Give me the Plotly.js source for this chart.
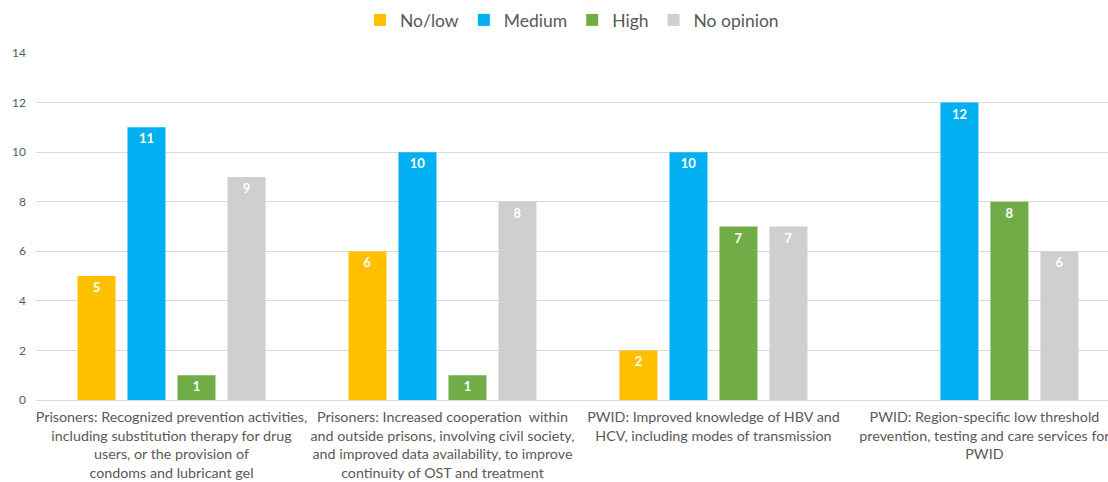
<!DOCTYPE html>
<html>
<head>
<meta charset="utf-8">
<script src="https://cdn.plot.ly/plotly-3.0.1.min.js"></script>
<style>html,body{margin:0;padding:0;background:#fff;}#chart{width:1108px;height:482px;}</style>
</head>
<body>
<div id="chart"></div>
<script>
var categories = [
  "Prisoners: Recognized prevention activities,<br>including substitution therapy for drug<br>users, or the provision of<br>condoms and lubricant gel",
  "Prisoners: Increased cooperation  within<br>and outside prisons, involving civil society,<br>and improved data availability, to improve<br>continuity of OST and treatment",
  "PWID: Improved knowledge of HBV and<br>HCV, including modes of transmission",
  "PWID: Region-specific low threshold<br>prevention, testing and care services for<br>PWID"
];
var seriesNames = ["No/low", "Medium", "High", "No opinion"];
var noLow = [5, 6, 2, null];
var medium = [11, 10, 10, 12];
var high = [1, 1, 7, 8];
var noOpinion = [9, 8, 7, 6];
var colors = ["#FFC000", "#00B0F0", "#70AD47", "#D0CECE"];

var allValues = [noLow, medium, high, noOpinion];
var traces = allValues.map(function (vals, i) {
  return {
    type: "bar",
    name: seriesNames[i],
    x: categories,
    y: vals,
    marker: {color: colors[i]},
    text: vals.map(function (v) { return v === null ? "" : String(v); }),
    texttemplate: "<b>%{text}</b>",
    textposition: "inside",
    insidetextanchor: "end",
    constraintext: "none",
    textfont: {family: "Lato, 'Open Sans', sans-serif", size: 13, color: "#ffffff"},
    hoverinfo: "skip"
  };
});

var layout = {
  width: 1108,
  height: 482,
  margin: {l: 36, r: 0, t: 53, b: 82},
  paper_bgcolor: "#ffffff",
  plot_bgcolor: "#ffffff",
  font: {family: "Lato, 'Open Sans', sans-serif", color: "#595959"},
  barmode: "group",
  bargap: 0.262,
  bargroupgap: 0.24,
  showlegend: true,
  legend: {
    orientation: "h",
    x: 0.5,
    xanchor: "center",
    y: 1.095,
    yanchor: "middle",
    itemwidth: 30,
    font: {size: 17.5, color: "#595959"},
    traceorder: "normal"
  },
  xaxis: {
    type: "category",
    range: [-0.5, 3.456],
    showgrid: false,
    showline: true,
    linecolor: "#d9d9d9",
    linewidth: 1,
    ticks: "",
    tickfont: {size: 14.3, color: "#595959"},
    ticklabelstandoff: 4,
    fixedrange: true
  },
  yaxis: {
    range: [0, 14],
    dtick: 2,
    tick0: 0,
    showgrid: true,
    gridcolor: "#d9d9d9",
    gridwidth: 1,
    zeroline: true,
    zerolinecolor: "#d9d9d9",
    showline: false,
    ticks: "",
    tickfont: {size: 12, color: "#595959"},
    ticklabelstandoff: 9,
    fixedrange: true
  }
};

Plotly.newPlot("chart", traces, layout, {displayModeBar: false, staticPlot: true});
</script>
</body>
</html>
